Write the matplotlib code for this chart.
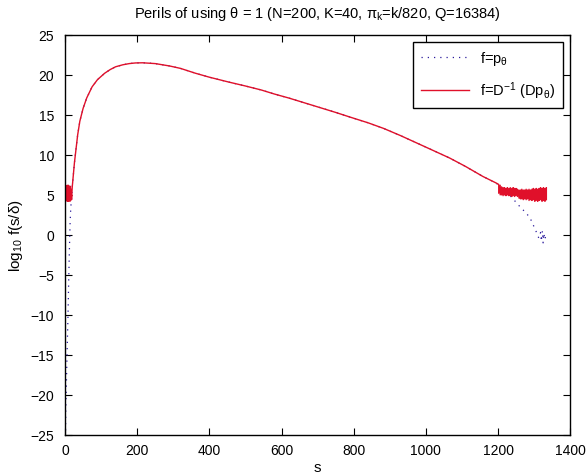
import numpy as np
import matplotlib
matplotlib.use("Agg")
import matplotlib.pyplot as plt

plt.rcParams['font.family'] = ['Liberation Sans', 'DejaVu Sans']
plt.rcParams['mathtext.default'] = 'regular'

# smooth part of log10 p_theta, shared by both curves
curve_s = [18, 20, 23, 26, 30, 35, 41, 50, 60, 75, 90, 110, 125, 140, 160, 178, 195,
           215, 235, 250, 270, 290, 320, 361, 400, 453, 500, 544, 580, 620, 660,
           700, 750, 791, 840, 883, 930, 974, 1020, 1066, 1110, 1158, 1194]
curve_v = [4.5, 6.0, 7.5, 9.0, 10.6, 12.5, 14.2, 15.8, 17.1, 18.5, 19.4, 20.2,
           20.65, 21.0, 21.25, 21.4, 21.48, 21.5, 21.45, 21.4, 21.25, 21.1, 20.8,
           20.2, 19.7, 19.1, 18.6, 18.1, 17.6, 17.1, 16.55, 16.0, 15.3, 14.7,
           14.0, 13.3, 12.4, 11.5, 10.55, 9.6, 8.55, 7.3, 6.5]

# p_theta near s=0 (drops off toward -inf)
head_s = [1, 2, 4, 6, 8, 10, 12, 14, 16]
head_v = [-26, -22, -18, -14, -10.5, -6.0, -2.0, 1.5, 3.5]

# p_theta tail past the smooth part
tail_s = [1210, 1238, 1256, 1272, 1288, 1304, 1313, 1318, 1320, 1323, 1325, 1327, 1330, 1333]
tail_v = [5.9, 4.7, 3.75, 3.0, 2.2, 0.6, -0.4, 0.3, -0.8, 0.5, -1.0, 0.2, -0.6, 0.1]

# reconstructed curve: noisy bands at both ends (upper / lower envelope)
lband_s = [0, 1.5, 3, 4.5, 6, 7.5, 9, 10.5, 12, 13.5, 15, 16.5, 18]
lband_hi = [5.4, 5.8, 6.0, 6.1, 6.2, 6.1, 6.2, 6.1, 6.0, 6.1, 5.9, 5.6, 5.0]
lband_lo = [4.8, 4.5, 4.3, 4.3, 4.2, 4.3, 4.2, 4.3, 4.3, 4.2, 4.4, 4.5, 4.4]

rband_s = [1202, 1206, 1210, 1214, 1218, 1222, 1226, 1230, 1234, 1238, 1242, 1246,
           1250, 1254, 1258, 1262, 1266, 1270, 1274, 1278, 1282, 1286, 1290, 1294,
           1298, 1302, 1306, 1310, 1314, 1318, 1322, 1326, 1330, 1334]
rband_hi = [6.3, 6.2, 6.0, 5.9, 5.9, 5.8, 5.9, 5.8, 5.9, 5.8, 5.9, 5.8, 5.8, 5.7,
            5.6, 5.6, 5.7, 5.6, 5.6, 5.7, 5.6, 5.7, 5.6, 5.7, 5.8, 5.7, 5.8, 5.7,
            5.8, 5.9, 5.8, 5.9, 5.8, 5.9]
rband_lo = [5.2, 5.0, 5.0, 4.9, 5.0, 4.9, 5.0, 4.9, 4.9, 4.8, 4.9, 4.8, 4.9, 4.8,
            4.6, 4.5, 4.5, 4.4, 4.5, 4.4, 4.5, 4.3, 4.4, 4.3, 4.4, 4.2, 4.3, 4.2,
            4.3, 4.4, 4.2, 4.3, 4.2, 4.4]


def zigzag(s, hi, lo):
    x = np.repeat(s, 2)
    y = np.empty(2 * len(s))
    y[0::2] = hi
    y[1::2] = lo
    return x, y


lx, ly = zigzag(lband_s, lband_hi, lband_lo)
rx, ry = zigzag(rband_s, rband_hi, rband_lo)

p_s = np.concatenate([head_s, curve_s, tail_s])
p_v = np.concatenate([head_v, curve_v, tail_v])
f_s = np.concatenate([lx, curve_s, rx])
f_v = np.concatenate([ly, curve_v, ry])

fig = plt.figure(figsize=(5.86, 4.77), dpi=100)
ax = fig.add_axes([0.111, 0.086, 0.862, 0.839])

ax.plot(p_s, p_v, color='#2a1a9c', linestyle=(0, (1, 4)), linewidth=0.9,
        label='f=p$_{θ}$')
ax.plot(f_s, f_v, color='#e0102a', linewidth=1.0, label='f=D$^{-1}$ (Dp$_{θ}$)')

ax.set_xlim(0, 1400)
ax.set_ylim(-25, 25)
ax.set_xticks(np.arange(0, 1401, 200))
ax.set_yticks(np.arange(-25, 26, 5))
ax.tick_params(direction='in', top=True, right=True, length=5, labelsize=10,
               width=0.8, pad=6)
ax.tick_params(axis='y', pad=8)
for sp in ax.spines.values():
    sp.set_linewidth(1.0)

ax.set_xlabel('s', fontsize=11, labelpad=2)
ax.set_ylabel('log$_{10}$ f(s/δ)', fontsize=11, labelpad=4)
ax.set_title('Perils of using θ = 1 (N=200, K=40, π$_{k}$=k/820, Q=16384)',
             fontsize=10.5, pad=13)

leg = ax.legend(loc='upper right', fontsize=10.5, fancybox=False, framealpha=1,
                edgecolor='black', borderaxespad=0.5, handlelength=3.3,
                labelspacing=0.8, borderpad=0.5)
leg.get_frame().set_linewidth(1.0)

fig.savefig('out.png', dpi=100)
